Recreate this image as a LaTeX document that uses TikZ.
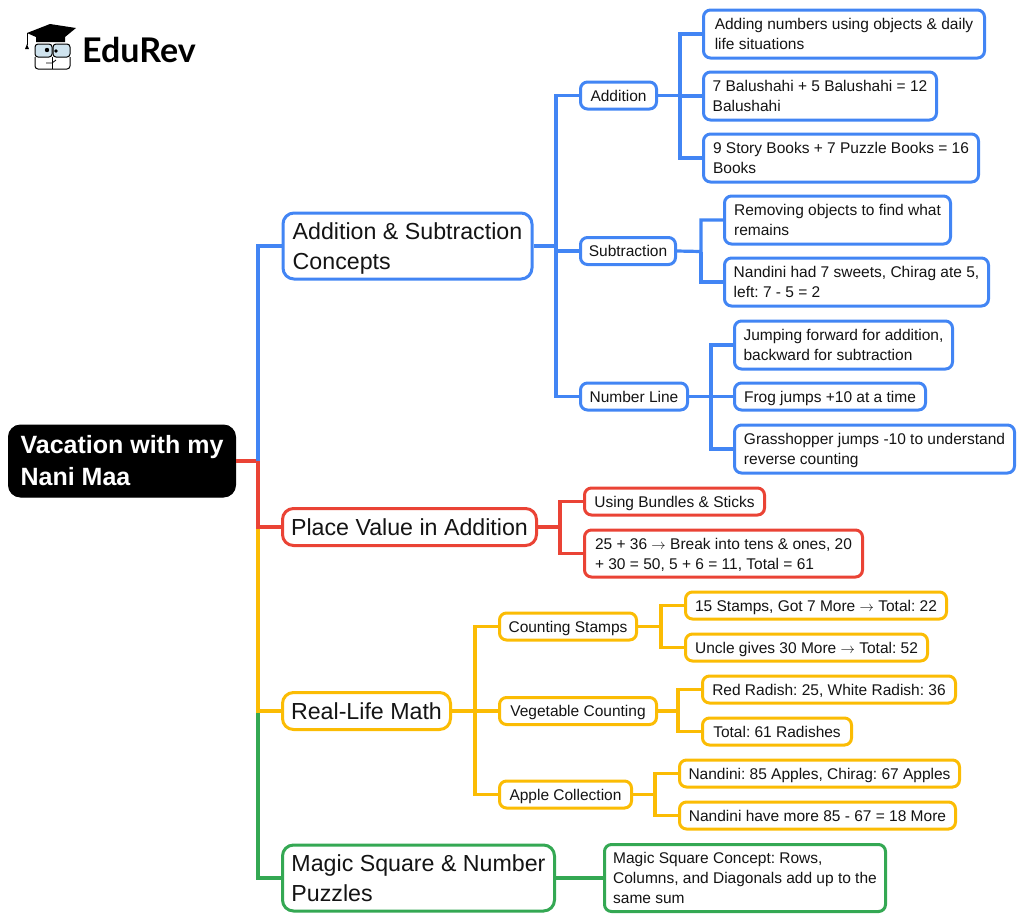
\documentclass[tikz,border=0pt]{standalone}
\usepackage{fontspec}
\setmainfont{Liberation Sans}
\newfontfamily\logofont{Lato}
\frenchspacing
\usetikzlibrary{calc,positioning}
\definecolor{mapblue}{HTML}{4285F4}
\definecolor{mapred}{HTML}{EA4335}
\definecolor{mapyellow}{HTML}{FBBC04}
\definecolor{mapgreen}{HTML}{34A853}
\definecolor{mapink}{HTML}{141414}
\definecolor{glass}{HTML}{CFE3EE}
\tikzset{
 box/.style={draw,fill=white,text=mapink,line width=3pt,rounded corners=7pt,inner sep=0pt,align=left},
 small/.style={box,font=\fontsize{15.5}{20}\selectfont,text height=15pt,text depth=4pt},
 smalltwo/.style={small,text height=35pt},
 smallthree/.style={small,text height=55pt},
 large/.style={box,rounded corners=11pt,font=\fontsize{23.2}{30}\selectfont,text height=21pt,text depth=4.4pt},
 largetwo/.style={large,text height=51pt},
 link/.style={line width=3.2pt}
}
\begin{document}
\begin{tikzpicture}[x=1pt,y=-1pt]
 	\useasboundingbox (0,0) rectangle (1024,922);
 	% logo
 	\fill[black] (27,33) -- (50,24) -- (76,28) -- (65,37) -- (65,42) -- (36,42) -- (36,37) -- cycle;
 	\draw[black,line width=1pt] (27,33) -- (27,45);
 	\fill[black] (27,44) -- (29,49) -- (25,49) -- cycle;
 	\draw[black,line width=1pt,fill=glass,rounded corners=3pt] (35,44) rectangle (52,57);
 	\draw[black,line width=1pt,fill=glass,rounded corners=3pt] (53,44) rectangle (70,57);
 	\fill[black] (47,50) circle (2.2pt);
 	\fill[black] (56,51) circle (1.8pt);
 	\draw[black,line width=1pt,rounded corners=3pt] (35,57) -- (35,69) -- (70,69) -- (70,57);
 	\draw[black,line width=1pt] (52.5,57) -- (52.5,69);
 	\draw[black,line width=0.8pt] (46,63) -- (52,63) -- (56,60);
 	\node[anchor=west,inner sep=0pt,font=\logofont\bfseries\fontsize{34}{34}\selectfont] (logo) at (82,50) {EduRev};
 	% branch points
 	\coordinate (rootbus) at (258,461);
 	\coordinate (addbus) at (556,246);
 	\coordinate (plusbus) at (680,95.5);
 	\coordinate (minusbus) at (701,251.5);
 	\coordinate (linebus) at (711,396.5);
 	\coordinate (placebus) at (560,527);
 	\coordinate (realbus) at (475,711);
 	\coordinate (stampbus) at (661,626.5);
 	\coordinate (vegbus) at (678,711);
 	\coordinate (applebus) at (655,794.5);
 	% boxes
 	\node[box,draw=black,fill=black,text=white,line width=1pt,rounded corners=12pt,minimum width=227,minimum height=72,font=\bfseries\fontsize{25}{32}\selectfont] (root) at (122,461) {Vacation with my\\Nani Maa};
 	\node[largetwo,draw=mapblue,minimum width=249,minimum height=66] (addsub) at (407.5,246) {Addition \& Subtraction\\Concepts};
 	\node[large,draw=mapred,minimum width=254,minimum height=37] (place) at (409.5,527) {Place Value in Addition};
 	\node[large,draw=mapyellow,minimum width=168,minimum height=37] (real) at (366.5,711) {Real-Life Math};
 	\node[largetwo,draw=mapgreen,minimum width=272,minimum height=66] (magic) at (418.5,878) {Magic Square \& Number\\Puzzles};
 	\node[small,draw=mapblue,minimum width=76,minimum height=27] (addition) at (618.5,95.5) {Addition};
 	\node[small,draw=mapblue,minimum width=95,minimum height=27] (subtraction) at (628,251) {Subtraction};
 	\node[small,draw=mapblue,minimum width=107,minimum height=27] (numline) at (634,396.5) {Number Line};
 	\node[smalltwo,draw=mapblue,minimum width=281,minimum height=48] (objects) at (844,34) {Adding numbers using objects \& daily\\life situations};
 	\node[smalltwo,draw=mapblue,minimum width=233,minimum height=48] (balu) at (820,96) {7 Balushahi + 5 Balushahi = 12\\Balushahi};
 	\node[smalltwo,draw=mapblue,minimum width=275,minimum height=48] (books) at (841,158) {9 Story Books + 7 Puzzle Books = 16\\Books};
 	\node[smalltwo,draw=mapblue,minimum width=226,minimum height=48] (removing) at (837.5,220) {Removing objects to find what\\remains};
 	\node[smalltwo,draw=mapblue,minimum width=264,minimum height=48] (sweets) at (856.5,282) {Nandini had 7 sweets, Chirag ate 5,\\left: 7 - 5 = 2};
 	\node[smalltwo,draw=mapblue,minimum width=218,minimum height=48] (jumping) at (843.5,345) {Jumping forward for addition,\\backward for subtraction};
 	\node[small,draw=mapblue,minimum width=191,minimum height=27] (frog) at (830,396.5) {Frog jumps +10 at a time};
 	\node[smalltwo,draw=mapblue,minimum width=280,minimum height=48] (hopper) at (874.5,449) {Grasshopper jumps -10 to understand\\reverse counting};
 	\node[small,draw=mapred,minimum width=180,minimum height=27] (bundles) at (674.5,501.5) {Using Bundles \& Sticks};
 	\node[smalltwo,draw=mapred,minimum width=278,minimum height=47] (tens) at (723.5,553.5) {25 + 36 $\rightarrow$ Break into tens \& ones, 20\\+ 30 = 50, 5 + 6 = 11, Total = 61};
 	\node[small,draw=mapyellow,minimum width=137,minimum height=27] (stamps) at (568,626.5) {Counting Stamps};
 	\node[small,draw=mapyellow,minimum width=157,minimum height=27] (veg) at (578,711) {Vegetable Counting};
 	\node[small,draw=mapyellow,minimum width=132,minimum height=27] (apple) at (565.5,794.5) {Apple Collection};
 	\node[small,draw=mapyellow,minimum width=261,minimum height=27] (got) at (816,605.5) {15 Stamps, Got 7 More $\rightarrow$ Total: 22};
 	\node[small,draw=mapyellow,minimum width=242,minimum height=27] (uncle) at (806.5,647.5) {Uncle gives 30 More $\rightarrow$ Total: 52};
 	\node[small,draw=mapyellow,minimum width=253,minimum height=27] (radish) at (829,689.5) {Red Radish: 25, White Radish: 36};
 	\node[small,draw=mapyellow,minimum width=149,minimum height=27] (total) at (777,731.5) {Total: 61 Radishes};
 	\node[small,draw=mapyellow,minimum width=280,minimum height=27] (count) at (819.5,773.5) {Nandini: 85 Apples, Chirag: 67 Apples};
 	\node[small,draw=mapyellow,minimum width=276,minimum height=27] (more) at (817.5,815.5) {Nandini have more 85 - 67 = 18 More};
 	\node[smallthree,draw=mapgreen,minimum width=281,minimum height=67] (concept) at (745,878) {Magic Square Concept: Rows,\\Columns, and Diagonals add up to the\\same sum};
 	% connectors
 	\draw[link,mapgreen] (rootbus) |- (magic.west);
 	\draw[link,mapgreen] (magic.east) -- (concept.west);
 	\draw[link,mapyellow] (rootbus) |- (real.west);
 	\draw[link,mapyellow] (real.east) -- (realbus) |- (stamps.west);
 	\draw[link,mapyellow] (realbus) -- (veg.west);
 	\draw[link,mapyellow] (realbus) |- (apple.west);
 	\draw[link,mapyellow] (stamps.east) -- (stampbus) |- (got.west);
 	\draw[link,mapyellow] (stampbus) |- (uncle.west);
 	\draw[link,mapyellow] (veg.east) -- (vegbus) |- (radish.west);
 	\draw[link,mapyellow] (vegbus) |- (total.west);
 	\draw[link,mapyellow] (apple.east) -- (applebus) |- (count.west);
 	\draw[link,mapyellow] (applebus) |- (more.west);
 	\draw[link,mapred] (root.east) -- (rootbus) |- (place.west);
 	\draw[link,mapred] (place.east) -- (placebus) |- (bundles.west);
 	\draw[link,mapred] (placebus) |- (tens.west);
 	\draw[link,mapblue] (rootbus) |- (addsub.west);
 	\draw[link,mapblue] (addsub.east) -- (addbus) |- (addition.west);
 	\draw[link,mapblue] (addbus) |- (subtraction.west);
 	\draw[link,mapblue] (addbus) |- (numline.west);
 	\draw[link,mapblue] (addition.east) -- (plusbus) |- (objects.west);
 	\draw[link,mapblue] (plusbus) |- (balu.west);
 	\draw[link,mapblue] (plusbus) |- (books.west);
 	\draw[link,mapblue] (subtraction.east) -- (minusbus) |- (removing.west);
 	\draw[link,mapblue] (minusbus) |- (sweets.west);
 	\draw[link,mapblue] (numline.east) -- (linebus) |- (jumping.west);
 	\draw[link,mapblue] (linebus) -- (frog.west);
 	\draw[link,mapblue] (linebus) |- (hopper.west);
 \end{tikzpicture}
\end{document}
